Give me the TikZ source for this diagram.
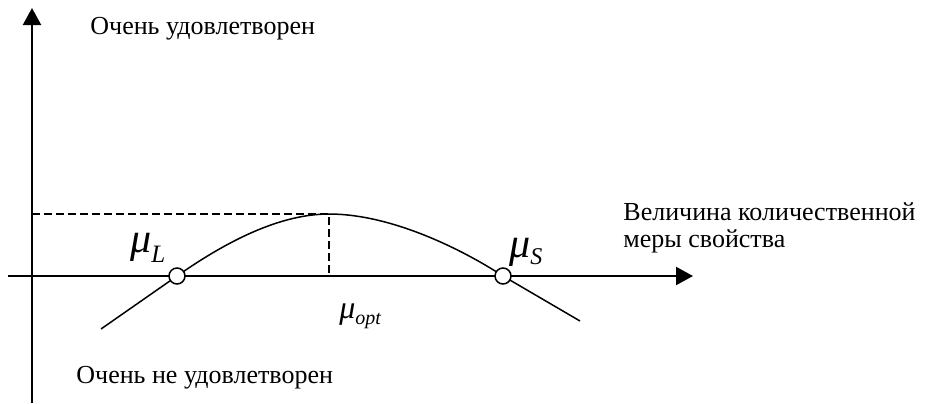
\documentclass[tikz,border=0pt]{standalone}
\usepackage{fontspec}
\setmainfont{Liberation Serif}
\usepackage{tikz}
\usetikzlibrary{arrows.meta,calc,positioning}

\begin{document}
\begin{tikzpicture}[x=0.5pt,y=-0.5pt,
    axis/.style={line width=1.1pt,-{Triangle[length=8.5pt,width=9pt]}},
    guide/.style={line width=1.1pt,dash pattern=on 4pt off 2pt},
    dot/.style={circle,draw,fill=white,line width=0.75pt,inner sep=0pt,minimum size=8pt},
    lbl/.style={inner sep=0pt,anchor=base west,font=\fontsize{13}{15}\selectfont}]
              \useasboundingbox (0,0) rectangle (925,403);

              % Axes
              \coordinate (xstart) at (8,276);
              \coordinate (xend) at (693,276);
              \coordinate (ystart) at (32,403);
              \coordinate (yend) at (32,8);
              \draw[axis] (xstart) -- (xend);
              \draw[axis] (ystart) -- (yend);

              % Optimum with dashed guides
              \coordinate (peak) at (329,214);
              \coordinate (foot) at (329,276);
              \coordinate (level) at (32,214);
              \draw[guide] (level) -- (peak) -- (foot);

              % Curve
              \coordinate (cstart) at (101,329);
              \coordinate (cend) at (580,321);
              \draw[line width=0.75pt] (cstart) -- (177,276)
                .. controls (227,241) and (280,214) .. (peak)
                .. controls (390,214) and (460,248) .. (503,276) -- (cend);

              % Crossing points
              \node[dot] (muL) at (177,276) {};
              \node[dot] (muS) at (503,276) {};

              % Labels
              \node[lbl] (labL) at (130,252) {{\fontsize{21}{21}\selectfont\itshape μ}\raisebox{-5pt}{\fontsize{12.5}{12.5}\selectfont\itshape L}};
              \node[lbl] (labS) at (509,257) {{\fontsize{21}{21}\selectfont\itshape μ}\raisebox{-3.5pt}{\fontsize{12}{12}\selectfont\itshape S}};
              \node[lbl] (labopt) at (339,318) {{\fontsize{16}{16}\selectfont\itshape μ}\raisebox{-3pt}{\fontsize{10}{10}\selectfont\itshape opt}};
              \node[lbl] (top) at (90,34) {Очень удовлетворен};
              \node[lbl] (bottom) at (76,383) {Очень не удовлетворен};
              \node[lbl] (qty) at (623,220) {Величина количественной};
              \node[lbl] (qty2) at (623,247) {меры свойства};
          \end{tikzpicture}
\end{document}
